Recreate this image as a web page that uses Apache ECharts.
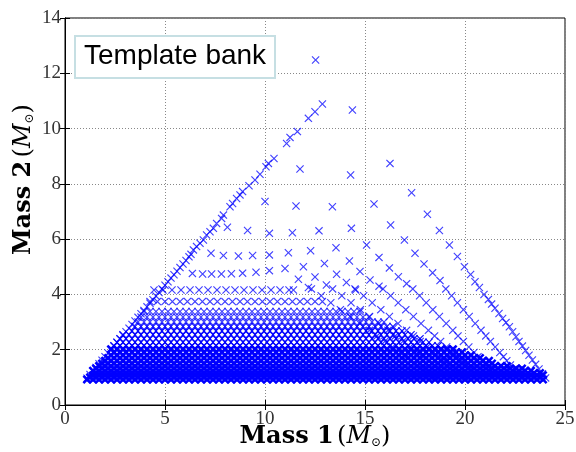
<!DOCTYPE html>
<html><head><meta charset="utf-8">
<script src="https://cdn.jsdelivr.net/npm/echarts@6/dist/echarts.min.js"></script>
<style>html,body{margin:0;padding:0;background:#fff}#c{width:576px;height:452px}</style>
</head><body><div id="c"></div>
<script>
// ---- tick values ----
const xTickMin = 0, xTickMax = 25, xTickStep = 5;
const yTickMin = 0, yTickMax = 14, yTickStep = 2;

// ---- sparse template points (m1, m2) ----
const sparseM1 = [12.53,14.37,16.25,17.33,18.12,18.72,19.22,19.62,19.97,20.28,20.5,20.72,20.95,21.17,21.33,21.5,21.7,21.88,22.05,22.22,22.38,22.55,22.7,22.87,23.03,23.2,23.37,23.53,23.7,23.87,24.03,
 14.28,11.75,15.45,13.37,11.55,10.0,16.28,14.32,12.7,11.37,10.22,9.13,8.12,
 16.97,15.08,13.55,12.28,11.17,10.22,9.38,8.67,7.92,7.3,
 17.5,15.7,14.22,12.97,11.92,11.0,10.22,9.55,8.88,8.32,7.82,7.33,6.88,6.37,
 17.95,16.22,14.75,13.58,12.5,11.67,
 18.38,16.67,15.25,14.07,13.07,12.17,11.42,
 18.75,17.08,15.7,14.53];
const sparseM2 = [12.48,10.67,8.74,7.68,6.9,6.31,5.79,5.37,5.0,4.72,4.46,4.25,4.0,3.82,3.65,3.5,3.31,3.13,2.98,2.83,2.65,2.47,2.3,2.13,1.97,1.8,1.63,1.47,1.3,1.13,0.98,
 8.32,8.54,7.27,7.17,7.2,7.36,6.51,6.39,6.3,6.23,6.21,6.31,6.43,
 5.97,5.79,5.69,5.58,5.51,5.43,5.41,5.39,5.41,5.49,
 5.49,5.34,5.21,5.12,5.0,4.94,4.86,4.8,4.77,4.75,4.74,4.74,4.74,4.76,
 5.1,4.96,4.83,4.73,4.63,4.55,
 4.78,4.64,4.52,4.43,4.34,4.25,4.16,
 4.5,4.39,4.3,4.16];

// ---- near-diagonal edge of the bank ----
const diagM1 = [12.87,12.5,12.17,11.62,11.25,11.08,10.45,10.17,10.05,9.75,9.5,9.2,8.88,8.75,8.58,8.38,8.25,7.92,7.83,7.58,7.42,7.25,7.08,6.92,6.75,6.58,6.42,
 6.3,6.2,6.05,5.9,5.75,5.6,5.45,5.3,5.15,5.0,4.85,4.7,4.55,4.4,4.25,4.1,3.95,3.8,3.65,3.5,3.35,3.2,3.05,2.9,2.75,2.6,2.45,2.3,2.15,2.0,1.85,1.7,1.55,1.4,1.25,1.1];
const diagM2 = [10.89,10.61,10.37,9.89,9.68,9.46,8.92,8.74,8.62,8.35,8.14,7.93,7.72,7.6,7.47,7.29,7.17,6.87,6.75,6.57,6.39,6.27,6.15,5.97,5.85,5.73,5.61,
 5.45,5.36,5.23,5.1,4.97,4.84,4.71,4.59,4.46,4.33,4.2,4.07,3.94,3.81,3.68,3.55,3.42,3.3,3.17,3.04,2.91,2.78,2.65,2.52,2.39,2.26,2.13,2.0,1.88,1.75,1.62,1.49,1.36,1.23,1.1,0.97];

// ---- rays converging to the lower right: m1 at each m2 level ----
const rayLevels = [4.2,3.95,3.7,3.45,3.2,2.95,2.7,2.5,2.3,2.1,1.9,1.75,1.6,1.45,1.3,1.15,1.0];
const rayB = [19.04,19.33,19.62,19.92,20.21,20.51,20.8,21.04,21.27,21.51,21.74,21.92,22.09,22.27,22.45,22.62,22.8];
const rayC = [17.39,17.73,18.06,18.39,18.72,19.06,19.39,19.65,19.92,20.19,20.45,20.65,20.85,21.05,21.25,21.45,21.65];
const rayD = [15.9,16.28,16.66,17.04,17.42,17.8,18.17,18.48,18.78,19.08,19.39,19.61,19.84,20.07,20.3,20.52,20.75];
const rayE = [14.5,14.93,15.36,15.79,16.22,16.65,17.08,17.42,17.76,18.11,18.45,18.71,18.97,19.23,19.48,19.74,20.0];
const rayF = [13.38,13.84,14.3,14.77,15.23,15.69,16.15,16.52,16.89,17.26,17.63,17.91,18.19,18.47,18.74,19.02,19.3];
const rayG = [12.32,12.81,13.29,13.77,14.25,14.74,15.22,15.6,15.99,16.38,16.76,17.05,17.34,17.63,17.92,18.21,18.5];

// ---- dense rows of the bank (m1 columns, m2 levels, extent per row) ----
const colsA = [1.1,1.4,1.7,2.0,2.3,2.6,2.9,3.2,3.5,3.8,4.1,4.4,4.7,5.0,5.3,5.6,5.9,6.2,6.5,6.8,7.1,7.4,7.7,8.0,8.3,8.6,8.9,9.2,9.5,9.8,10.1,10.4,10.7,11.0,11.3,11.6,11.9,12.2,12.5,12.8,13.1,13.4,13.7,14.0,14.3,14.6,14.9,15.2,15.5,15.8,16.1,16.4,16.7,17.0,17.3,17.6,17.9,18.2,18.5,18.8,19.1,19.4,19.7,20.0,20.3,20.6,20.9,21.2,21.5,21.8,22.1,22.4,22.7,23.0,23.3,23.6,23.9];
const colsB = [1.25,1.55,1.85,2.15,2.45,2.75,3.05,3.35,3.65,3.95,4.25,4.55,4.85,5.15,5.45,5.75,6.05,6.35,6.65,6.95,7.25,7.55,7.85,8.15,8.45,8.75,9.05,9.35,9.65,9.95,10.25,10.55,10.85,11.15,11.45,11.75,12.05,12.35,12.65,12.95,13.25,13.55,13.85,14.15,14.45,14.75,15.05,15.35,15.65,15.95,16.25,16.55,16.85,17.15,17.45,17.75,18.05,18.35,18.65,18.95,19.25,19.55,19.85,20.15,20.45,20.75,21.05,21.35,21.65,21.95,22.25,22.55,22.85,23.15,23.45,23.75,24.05];
const rowM2  = [0.92,1.0,1.08,1.16,1.24,1.32,1.41,1.5,1.6,1.7,1.8,1.91,2.02,2.14,2.27,2.4,2.54,2.68,2.84,3.0,3.18,3.38];
const rowMin = [1.05,1.1,1.2,1.3,1.4,1.5,1.6,1.7,1.8,1.95,2.05,2.2,2.3,2.45,2.6,2.75,2.9,3.1,3.25,3.45,3.65,3.9];
const rowMax = [24.1,24.0,23.9,23.8,23.5,23.0,22.2,21.6,21.2,20.8,20.4,19.9,19.4,18.9,18.4,17.9,17.4,16.9,16.4,16.0,15.4,14.8];
const row374M1 = [4.25,4.62,5.0,5.37,5.75,6.12,6.5,6.87,7.25,7.62,8.0,8.37,8.75,9.12,9.5,9.87,10.25,10.62,11.0,11.37,11.75,12.12,12.5,12.87];
const row416M1 = [4.45,4.9,5.35,5.8,6.25,6.7,7.15,7.6,8.05,8.5,8.95,9.4,9.85,10.3,10.75,11.2];

// ---- assemble points: packed (overlapping rows), mid, light (separate marks) ----
const light = [], mid = [], packed = [];
sparseM1.forEach((m, i) => light.push([m, sparseM2[i]]));
diagM1.forEach((m, i) => light.push([m, diagM2[i]]));
[rayB, rayC, rayD, rayE, rayF, rayG].forEach(r => r.forEach((m, i) => light.push([m, rayLevels[i]])));
rowM2.forEach((y, i) => {
  const cols = i % 2 ? colsB : colsA;
  const target = y <= 2.05 ? packed : (y <= 2.9 ? mid : light);
  cols.forEach(m => { if (m >= rowMin[i] && m <= rowMax[i]) target.push([m, y]); });
});
row374M1.forEach(m => light.push([m, 3.74]));
row416M1.forEach(m => light.push([m, 4.16]));

const xMark = 'path://M1,0L5,4L9,0L10,1L6,5L10,9L9,10L5,6L1,10L0,9L4,5L0,1Z';
const xMarkBold = 'path://M0,2L2,0L5,3L8,0L10,2L7,5L10,8L8,10L5,7L2,10L0,8L3,5Z';
const serif = 'DejaVu Serif';
const nameRich = {
  b: {fontFamily: serif, fontWeight: 'bold', fontSize: 24, color: '#000'},
  p: {fontFamily: serif, fontSize: 24, color: '#000'},
  i: {fontFamily: serif, fontStyle: 'italic', fontSize: 24, color: '#000'},
  s: {fontFamily: serif, fontSize: 12, color: '#000', verticalAlign: 'bottom', padding: [10, 0, 0, 0]}
};
const tickLabel = {fontFamily: 'Liberation Serif', fontSize: 19, color: '#333'};
const grid = {lineStyle: {type: [1, 2], color: '#888', width: 1}};

const chart = echarts.init(document.getElementById('c'), null, {renderer: 'canvas'});
chart.setOption({
  animation: false,
  backgroundColor: '#fff',
  title: {
    text: 'Template bank', left: 75, top: 36, padding: [6, 9, 8, 9],
    borderColor: '#c6dfe3', borderWidth: 2, backgroundColor: '#fff',
    textStyle: {fontFamily: 'Liberation Sans', fontSize: 28, fontWeight: 'normal', color: '#000'}
  },
  grid: {left: 65, right: 11, top: 18, bottom: 47, show: true, borderColor: '#000', borderWidth: 1, outerBoundsMode: 'none'},
  xAxis: [{
    type: 'value', min: xTickMin, max: xTickMax, interval: xTickStep,
    axisLine: {lineStyle: {color: '#000'}}, axisTick: {inside: true, length: 5, lineStyle: {color: '#000'}},
    axisLabel: Object.assign({margin: 5}, tickLabel), splitLine: Object.assign({show: true}, grid),
    name: '{b|Mass 1} {p|(}{i|M}{s|⊙}{p|)}', nameLocation: 'middle', nameGap: 20, nameMoveOverlap: false,
    nameTextStyle: {rich: nameRich}
  }, {
    type: 'value', position: 'top', min: xTickMin, max: xTickMax, interval: xTickStep,
    axisLine: {show: true, lineStyle: {color: '#000'}}, axisTick: {inside: true, length: 5, lineStyle: {color: '#000'}},
    axisLabel: {show: false}, splitLine: {show: false}
  }],
  yAxis: [{
    type: 'value', min: yTickMin, max: yTickMax, interval: yTickStep,
    axisLine: {show: true, lineStyle: {color: '#000'}}, axisTick: {show: true, inside: true, length: 5, lineStyle: {color: '#000'}},
    axisLabel: Object.assign({margin: 4}, tickLabel), splitLine: Object.assign({show: true}, grid),
    name: '{b|Mass 2} {p|(}{i|M}{s|⊙}{p|)}', nameLocation: 'middle', nameGap: 29, nameRotate: 90, nameMoveOverlap: false,
    nameTextStyle: {rich: nameRich, padding: [0, 0, 0, 64]}
  }, {
    type: 'value', position: 'right', min: yTickMin, max: yTickMax, interval: yTickStep,
    axisLine: {show: true, lineStyle: {color: '#000'}}, axisTick: {show: true, inside: true, length: 5, lineStyle: {color: '#000'}},
    axisLabel: {show: false}, splitLine: {show: false}
  }],
  series: [{
    name: 'Template bank', type: 'scatter', xAxisIndex: 0, yAxisIndex: 0,
    symbol: xMarkBold, symbolSize: 9,
    itemStyle: {color: '#0000ff', opacity: 1},
    data: packed
  }, {
    name: 'Template bank', type: 'scatter', xAxisIndex: 0, yAxisIndex: 0,
    symbol: xMark, symbolSize: 8,
    itemStyle: {color: '#0000ff', opacity: 0.95},
    data: mid
  }, {
    name: 'Template bank', type: 'scatter', xAxisIndex: 0, yAxisIndex: 0,
    symbol: xMark, symbolSize: 8,
    itemStyle: {color: '#0000ff', opacity: 0.75},
    data: light
  }]
});
</script></body></html>
